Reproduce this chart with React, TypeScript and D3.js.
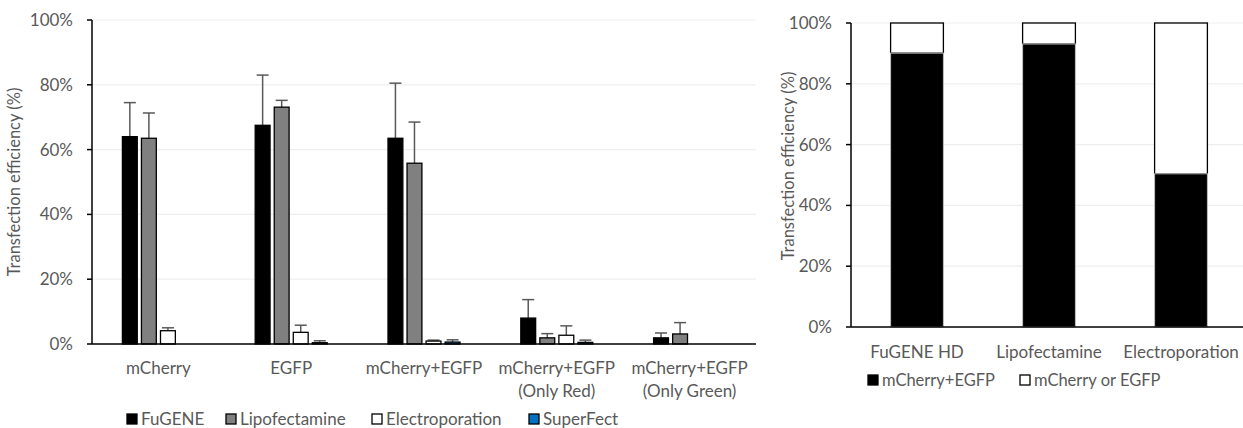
import * as d3 from "d3";

// left chart data (percent)
const categories = [
  ["mCherry"],
  ["EGFP"],
  ["mCherry+EGFP"],
  ["mCherry+EGFP", "(Only Red)"],
  ["mCherry+EGFP", "(Only Green)"],
];
const seriesNames = ["FuGENE", "Lipofectamine", "Electroporation", "SuperFect"];
const fugene = [64.0, 67.5, 63.5, 8.0, 1.9];
const fugeneErr = [10.5, 15.5, 17.0, 5.7, 1.5];
const lipofectamine = [63.5, 73.1, 55.8, 1.9, 3.1];
const lipofectamineErr = [7.8, 2.1, 12.7, 1.3, 3.5];
const electroporation = [4.1, 3.6, 0.9, 2.7, 0];
const electroporationErr = [0.9, 2.2, 0.3, 2.9, 0];
const superfect = [0, 0.4, 0.6, 0.5, 0];
const superfectErr = [0, 0.6, 0.7, 0.7, 0];
const yTicks = [0, 20, 40, 60, 80, 100];

// right chart data (percent)
const methods = ["FuGENE HD", "Lipofectamine", "Electroporation"];
const bothColors = [90.1, 93.1, 50.4];
const oneColor = [9.9, 6.9, 49.6];
const stackNames = ["mCherry+EGFP", "mCherry or EGFP"];

const seriesFill = ["#000000", "#808080", "#ffffff", "#0070c0"];
const FONT = "Lato, 'Open Sans', sans-serif";
const TXT = "#595959";
const GRID = "#efefef";

function LeftChart() {
  const left = 92, right = 756, top = 20, bottom = 344;
  const values = [fugene, lipofectamine, electroporation, superfect];
  const errs = [fugeneErr, lipofectamineErr, electroporationErr, superfectErr];
  const x0 = d3.scaleBand<number>().domain(d3.range(categories.length)).range([left, right]);
  const x1 = d3.scaleBand<number>().domain(d3.range(seriesNames.length)).range([-36, 36]).paddingInner(0.22);
  const y = d3.scaleLinear().domain([0, 100]).range([bottom, top]);
  const cx = (i: number) => (x0(i) as number) + x0.bandwidth() / 2;

  return (
    <g>
      {yTicks.map((t) => (
        <g key={t}>
          {t > 0 && <line x1={left} x2={right} y1={y(t)} y2={y(t)} stroke={GRID} strokeWidth={1.2} />}
          <line x1={left - 5} x2={left} y1={y(t)} y2={y(t)} stroke="#000" strokeWidth={1.5} />
          <text x={left - 19} y={y(t)} dy="0.35em" textAnchor="end" fontSize={17} fill={TXT}>
            {t}%
          </text>
        </g>
      ))}
      {values.map((vals, s) =>
        vals.map((v, i) => {
          const bx = cx(i) + (x1(s) as number);
          const bw = x1.bandwidth();
          const mid = bx + bw / 2;
          const e = errs[s][i];
          return (
            <g key={`${s}-${i}`}>
              {e > 0 && (
                <g stroke="#595959" strokeWidth={1.5}>
                  <line x1={mid} x2={mid} y1={y(v)} y2={y(v + e)} />
                  <line x1={mid - 6} x2={mid + 6} y1={y(v + e)} y2={y(v + e)} />
                </g>
              )}
              <rect x={bx} y={y(v)} width={bw} height={y(0) - y(v)} fill={seriesFill[s]} stroke="#000" strokeWidth={1.3} />
            </g>
          );
        })
      )}
      <line x1={left} x2={left} y1={top} y2={bottom} stroke="#000" strokeWidth={1.5} />
      <line x1={left} x2={right} y1={bottom} y2={bottom} stroke="#000" strokeWidth={1.5} />
      {categories.map((lines, i) => (
        <text key={i} x={cx(i)} y={368} textAnchor="middle" fontSize={17} fill={TXT}>
          {lines.map((l, k) => (
            <tspan key={k} x={cx(i)} dy={k === 0 ? "0.35em" : 23}>
              {l}
            </tspan>
          ))}
        </text>
      ))}
      <text transform={`translate(14,${(top + bottom) / 2}) rotate(-90)`} textAnchor="middle" dy="0.35em" fontSize={16.5} fill={TXT}>
        Transfection efficiency (%)
      </text>
      {seriesNames.map((n, s) => {
        const lx = [127, 226, 372, 529][s];
        return (
          <g key={n}>
            <rect x={lx} y={414} width={10} height={10} fill={seriesFill[s]} stroke="#000" strokeWidth={1.3} />
            <text x={lx + 14} y={419} dy="0.35em" fontSize={17} fill={TXT}>
              {n}
            </text>
          </g>
        );
      })}
    </g>
  );
}

function RightChart() {
  const left = 851, right = 1247, top = 23, bottom = 327;
  const x = d3.scaleBand<number>().domain(d3.range(methods.length)).range([left, right]).paddingInner(0.6).paddingOuter(0.3);
  const y = d3.scaleLinear().domain([0, 100]).range([bottom, top]);
  const stack = methods.map((m, i) => ({ both: bothColors[i], one: oneColor[i] }));

  return (
    <g>
      {yTicks.map((t) => (
        <g key={t}>
          {t > 0 && <line x1={left} x2={right} y1={y(t)} y2={y(t)} stroke={GRID} strokeWidth={1.2} />}
          <line x1={left - 5} x2={left} y1={y(t)} y2={y(t)} stroke="#000" strokeWidth={1.5} />
          <text x={left - 19} y={y(t)} dy="0.35em" textAnchor="end" fontSize={17} fill={TXT}>
            {t}%
          </text>
        </g>
      ))}
      {stack.map((d, i) => {
        const bx = x(i) as number;
        const bw = x.bandwidth();
        return (
          <g key={i}>
            <rect x={bx} y={y(d.both + d.one)} width={bw} height={y(d.both) - y(d.both + d.one)} fill="#fff" stroke="#000" strokeWidth={1.3} />
            <rect x={bx} y={y(d.both)} width={bw} height={y(0) - y(d.both)} fill="#000" stroke="#bfbfbf" strokeWidth={1} />
          </g>
        );
      })}
      <line x1={left} x2={left} y1={top} y2={bottom} stroke="#000" strokeWidth={1.5} />
      <line x1={left} x2={right} y1={bottom} y2={bottom} stroke="#000" strokeWidth={1.5} />
      {methods.map((m, i) => (
        <text key={m} x={(x(i) as number) + x.bandwidth() / 2} y={352} dy="0.35em" textAnchor="middle" fontSize={17} fill={TXT}>
          {m}
        </text>
      ))}
      <text transform={`translate(788,166) rotate(-90)`} textAnchor="middle" dy="0.35em" fontSize={16.5} fill={TXT}>
        Transfection efficiency (%)
      </text>
      {stackNames.map((n, s) => {
        const lx = [868, 1020][s];
        return (
          <g key={n}>
            <rect x={lx} y={375} width={10} height={10} fill={s === 0 ? "#000" : "#fff"} stroke="#000" strokeWidth={1.3} />
            <text x={lx + 14} y={380} dy="0.35em" fontSize={16.5} fill={TXT}>
              {n}
            </text>
          </g>
        );
      })}
    </g>
  );
}

export default function App() {
  return (
    <div style={{ position: "absolute", left: 0, top: 0 }}>
      <svg width={1243} height={428} style={{ display: "block", fontFamily: FONT, background: "#fff" }}>
        <LeftChart />
        <RightChart />
      </svg>
    </div>
  );
}
